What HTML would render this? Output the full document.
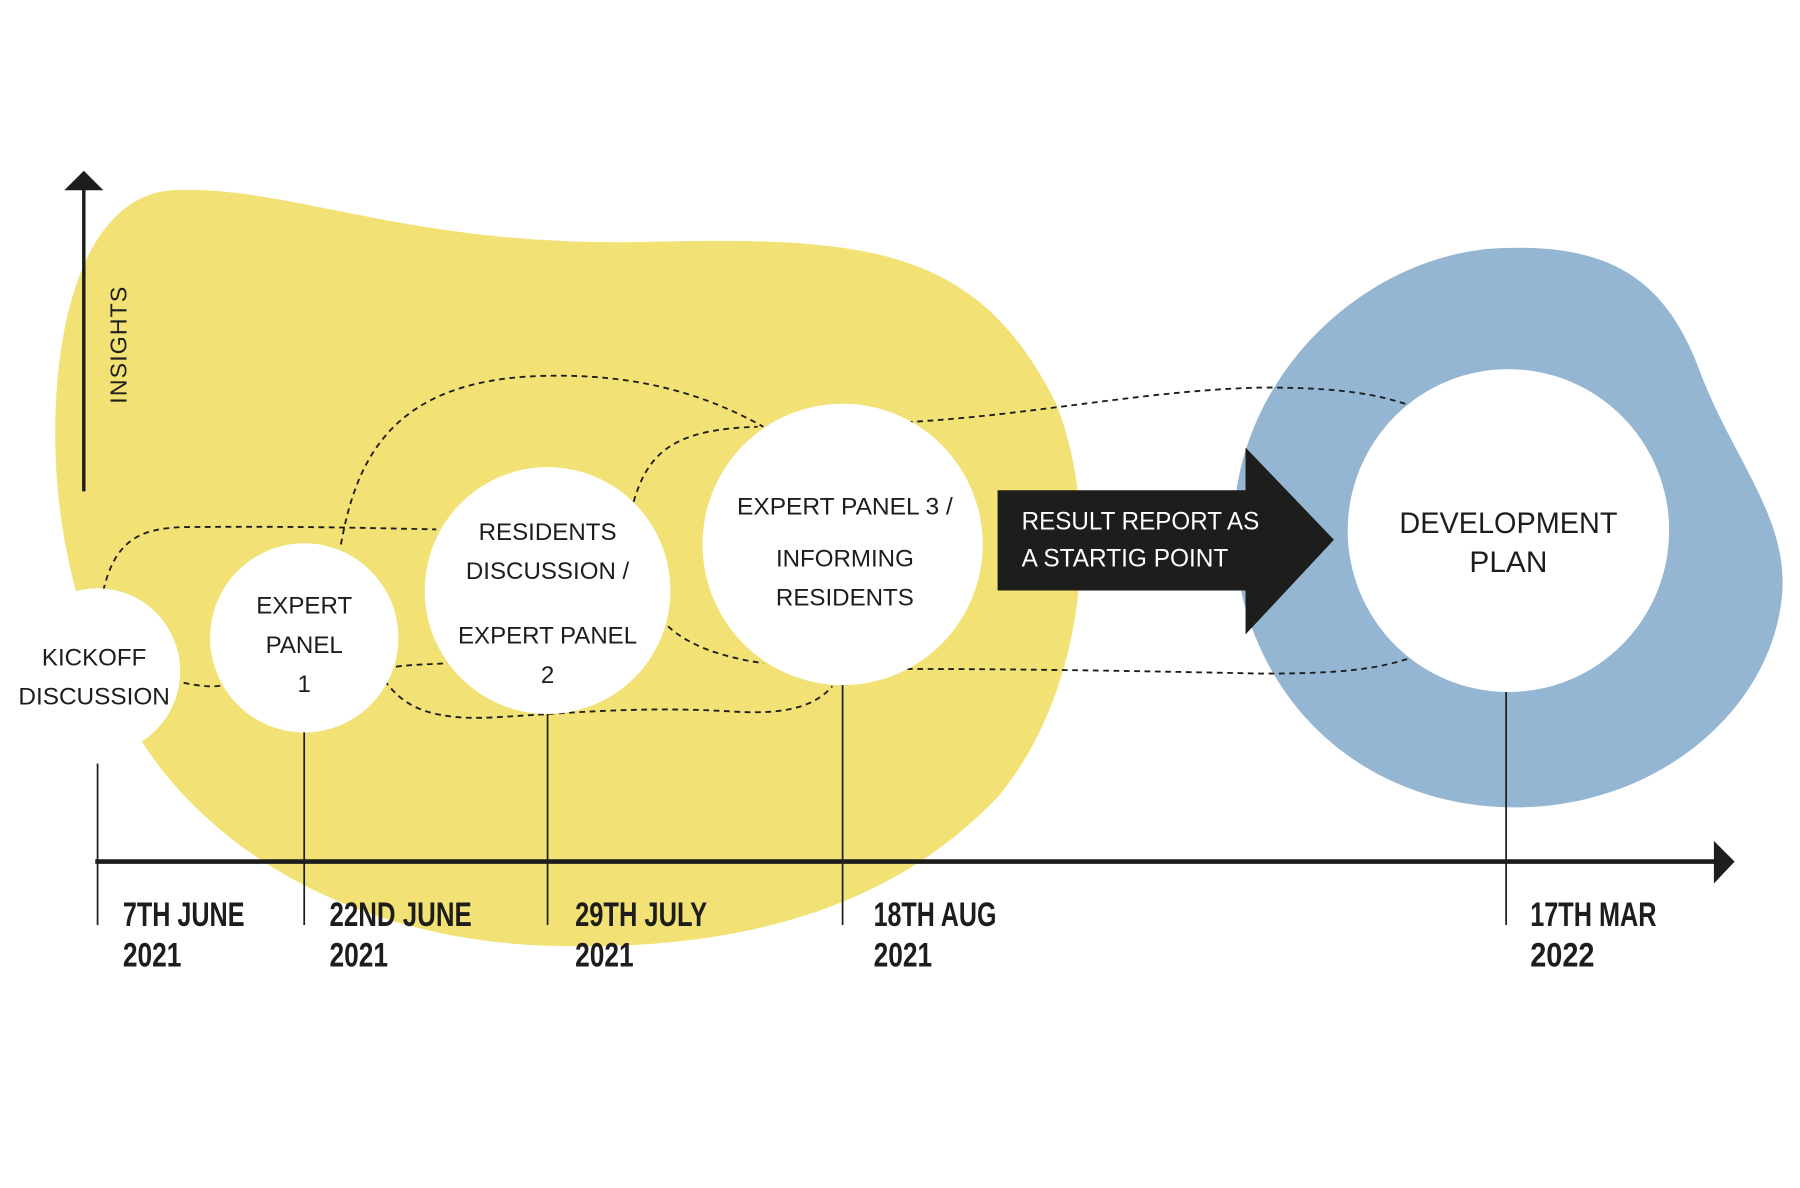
<!DOCTYPE html>
<html><head><meta charset="utf-8"><style>
html,body{margin:0;padding:0;background:#fff;}
svg{display:block;}
.n{font-family:"Liberation Sans Narrow","Liberation Sans",sans-serif;font-size:21px;fill:#1d1d1b;text-anchor:middle;}
.d{font-family:"Liberation Sans Narrow","Liberation Sans",sans-serif;font-size:30px;font-weight:bold;fill:#1d1d1b;}
.ds{fill:none;stroke:#1d1d1b;stroke-width:1.6;stroke-dasharray:5 4;}
</style></head><body>
<svg width="1800" height="1188" viewBox="0 0 1568 1030" preserveAspectRatio="none">
<rect width="1568" height="1030" fill="#fff"/>
<path d="M150 165 C250 160 350 212 550 210 C750 205 850 210 920 350 C960 450 945 600 870 690 C780 785 650 825 480 820 C300 815 180 730 125 645 C70 560 40 450 50 330 C60 220 100 168 150 165 Z" fill="#f2e175"/>
<path d="M1310 215 C1400 212 1450 240 1480 320 C1510 400 1560 450 1552 520 C1540 620 1440 700 1320 700 C1190 700 1085 610 1075 470 C1068 330 1190 218 1310 215 Z" fill="#94b6d3"/>
<path class="ds" d="M90 512 C100 470 120 458 160 457 C260 456 330 458 380 459"/>
<path class="ds" d="M297 472 C310 400 340 330 470 326 C560 323 620 345 665 370"/>
<path class="ds" d="M552 435 C565 390 590 372 660 370"/>
<path class="ds" d="M160 592 C175 595 185 596 195 594"/>
<path class="ds" d="M345 578 C360 576 375 576 390 575"/>
<path class="ds" d="M335 590 C350 610 370 625 430 622 C500 618 560 612 640 617 C690 620 712 610 725 595"/>
<path class="ds" d="M582 543 C600 560 630 570 665 575"/>
<path class="ds" d="M790 366 C900 360 1000 338 1100 336 C1170 336 1200 342 1230 352"/>
<path class="ds" d="M790 580 C900 580 1000 582 1100 584 C1170 584 1200 580 1230 570"/>
<circle cx="85" cy="582" r="72" fill="#fff"/>
<circle cx="265" cy="553" r="82" fill="#fff"/>
<circle cx="477" cy="512" r="107" fill="#fff"/>
<circle cx="734" cy="472" r="122" fill="#fff"/>
<circle cx="1314" cy="460" r="140" fill="#fff"/>
<g stroke="#1d1d1b" stroke-width="1.5">
<line x1="85" y1="662" x2="85" y2="802"/>
<line x1="265" y1="635" x2="265" y2="802"/>
<line x1="477" y1="619" x2="477" y2="802"/>
<line x1="734" y1="594" x2="734" y2="802"/>
<line x1="1312" y1="600" x2="1312" y2="802"/>
</g>
<line x1="73" y1="162" x2="73" y2="426" stroke="#1d1d1b" stroke-width="3"/>
<polygon points="56,165 90,165 73,148" fill="#1d1d1b"/>
<line x1="83" y1="747" x2="1496" y2="747" stroke="#1d1d1b" stroke-width="4"/>
<polygon points="1493,729 1493,766 1511,747" fill="#1d1d1b"/>
<text x="110" y="350" transform="rotate(-90 110 350)" style="font-family:'Liberation Sans',sans-serif;font-size:20px;letter-spacing:1px;fill:#1d1d1b">INSIGHTS</text>
<polygon points="869,425 1085,425 1085,388 1162,468 1085,550 1085,512 869,512" fill="#1d1d1b"/>
<text x="890" y="459" textLength="207" lengthAdjust="spacingAndGlyphs" style="font-family:'Liberation Sans',sans-serif;font-size:22px;fill:#fff">RESULT REPORT AS</text>
<text x="890" y="491" textLength="180" lengthAdjust="spacingAndGlyphs" style="font-family:'Liberation Sans',sans-serif;font-size:22px;fill:#fff">A STARTIG POINT</text>
<text class="n" x="82" y="577">KICKOFF</text>
<text class="n" x="82" y="611" textLength="132" lengthAdjust="spacingAndGlyphs">DISCUSSION</text>
<text class="n" x="265" y="532">EXPERT</text>
<text class="n" x="265" y="566">PANEL</text>
<text class="n" x="265" y="600">1</text>
<text class="n" x="477" y="468">RESIDENTS</text>
<text class="n" x="477" y="502">DISCUSSION /</text>
<text class="n" x="477" y="558" textLength="156" lengthAdjust="spacingAndGlyphs">EXPERT PANEL</text>
<text class="n" x="477" y="592">2</text>
<text class="n" x="736" y="446" textLength="188" lengthAdjust="spacingAndGlyphs">EXPERT PANEL 3 /</text>
<text class="n" x="736" y="491">INFORMING</text>
<text class="n" x="736" y="525">RESIDENTS</text>
<text class="n" x="1314" y="462" style="font-size:26px" textLength="190" lengthAdjust="spacingAndGlyphs">DEVELOPMENT</text>
<text class="n" x="1314" y="496" style="font-size:26px">PLAN</text>
<g class="d">
<text class="d" x="107" y="803" textLength="106" lengthAdjust="spacingAndGlyphs">7TH JUNE</text><text class="d" x="107" y="838" textLength="51" lengthAdjust="spacingAndGlyphs">2021</text>
<text class="d" x="287" y="803" textLength="124" lengthAdjust="spacingAndGlyphs">22ND JUNE</text><text class="d" x="287" y="838" textLength="51" lengthAdjust="spacingAndGlyphs">2021</text>
<text class="d" x="501" y="803" textLength="115" lengthAdjust="spacingAndGlyphs">29TH JULY</text><text class="d" x="501" y="838" textLength="51" lengthAdjust="spacingAndGlyphs">2021</text>
<text class="d" x="761" y="803" textLength="107" lengthAdjust="spacingAndGlyphs">18TH AUG</text><text class="d" x="761" y="838" textLength="51" lengthAdjust="spacingAndGlyphs">2021</text>
<text class="d" x="1333" y="803" textLength="110" lengthAdjust="spacingAndGlyphs">17TH MAR</text><text class="d" x="1333" y="838" textLength="56" lengthAdjust="spacingAndGlyphs">2022</text>
</g>
</svg>
</body></html>
